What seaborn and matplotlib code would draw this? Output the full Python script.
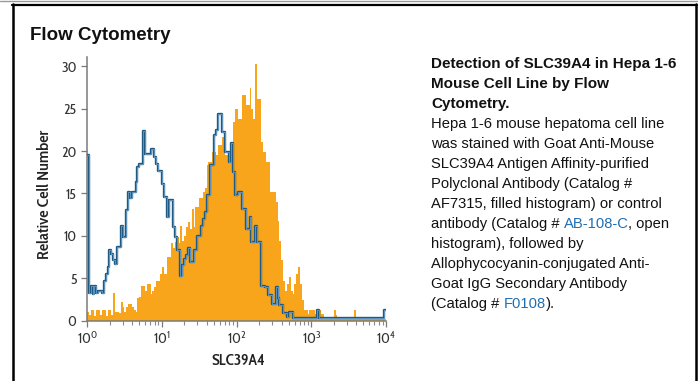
import numpy as np
import pandas as pd
import matplotlib
matplotlib.use('Agg')
import matplotlib.pyplot as plt
import seaborn as sns
from matplotlib.lines import Line2D

W, H = 698, 381

# 채널 경계 (log10 단위, 0.025 decade 간격 = 160 채널)
edges = np.linspace(0, 4, 161)
centers = (edges[:-1] + edges[1:]) / 2

# control antibody (open histogram)
control = [
    19.5, 3.3, 4.1, 3.1, 4.1, 3.3, 3.5, 3.5, 3.3, 4.7,
    5.5, 6.3, 8.3, 7.9, 7.1, 6.7, 8.7, 8.7, 11.2, 9.8,
    9.8, 13.0, 15.2, 14.4, 15.2, 15.2, 16.3, 18.1, 18.5, 18.5,
    22.4, 19.7, 19.7, 19.7, 20.3, 20.3, 19.3, 18.5, 17.7, 17.7,
    16.1, 14.6, 14.6, 12.2, 14.2, 14.2, 11.0, 9.8, 8.3, 8.3,
    5.3, 6.5, 7.3, 7.7, 8.5, 6.9, 6.9, 8.3, 8.3, 10.0,
    10.0, 11.2, 12.0, 12.8, 14.8, 14.8, 18.3, 18.3, 21.9, 22.5,
    24.4, 24.4, 22.2, 22.2, 19.9, 19.9, 18.7, 21.0, 17.5, 14.8,
    14.8, 15.2, 15.2, 13.2, 13.2, 10.8, 10.8, 12.2, 9.3, 9.3,
    11.2, 9.3, 9.3, 4.1, 4.1, 3.9, 3.9, 3.0, 3.0, 2.0,
    2.0, 4.0, 2.6, 1.8, 1.8, 0.9, 0.9, 0.4, 1.0, 1.0,
    0.3, 0.3, 0.3, 0.3, 0.3, 0.3, 0.3, 0.3, 0.3, 0.3,
    0.3, 0.3, 0.3, 1.2, 0.3, 0.3, 0.3, 0.3, 0.3, 0.3,
    0.3, 0.3, 0.3, 0.3, 0.3, 0.3, 0.3, 0.3, 0.3, 0.3,
    0.3, 0.3, 0.3, 0.3, 0.3, 0.3, 0.3, 0.3, 0.3, 0.3,
    0.3, 0.3, 0.3, 0.3, 0.3, 0.3, 0.3, 0.3, 0.3, 1.2,
]

# AF7315 (filled histogram)
stained = [
    1.0, 0.6, 1.2, 1.2, 0.5, 1.2, 1.2, 0.6, 1.2, 1.2,
    0.5, 1.2, 1.2, 0.6, 3.3, 1.0, 1.0, 0.9, 2.2, 1.6,
    1.0, 1.6, 2.0, 2.0, 1.6, 1.2, 1.0, 2.6, 2.8, 4.1,
    4.1, 3.5, 4.3, 4.3, 3.1, 3.5, 3.9, 4.7, 4.7, 5.5,
    6.3, 5.5, 5.5, 7.5, 7.5, 9.1, 8.5, 9.3, 9.8, 9.1,
    11.2, 9.4, 10.0, 11.0, 11.6, 10.8, 13.2, 11.0, 13.4, 13.4,
    14.4, 14.4, 15.2, 15.6, 18.3, 18.7, 18.7, 19.9, 19.9, 19.5,
    20.7, 20.7, 21.7, 21.7, 19.5, 19.5, 18.7, 18.9, 23.4, 25.0,
    25.0, 23.8, 23.8, 26.6, 26.6, 25.4, 25.4, 27.4, 25.0, 23.8,
    30.3, 26.2, 26.2, 21.1, 19.9, 19.9, 18.7, 18.7, 15.2, 15.2,
    15.2, 14.0, 11.8, 9.4, 7.1, 4.7, 3.5, 4.3, 5.1, 3.5,
    3.1, 4.3, 5.5, 6.3, 4.3, 2.4, 1.2, 1.2, 0.8, 1.2,
    1.2, 1.2, 0.8, 0.8, 1.2, 0.8, 0.8, 0.4, 0.2, 0.2,
    0.2, 0.2, 1.2, 0.6, 0.2, 0.2, 0.2, 0.2, 0.2, 0.2,
    0.2, 0.2, 0.2, 1.2, 0.2, 0.2, 0.2, 0.2, 0.2, 0.2,
    0.2, 0.2, 0.2, 0.2, 0.2, 0.2, 0.2, 0.2, 0.2, 0.2,
]

x_ticks = [0, 1, 2, 3, 4]
x_tick_labels = [r'$10^{0}$', r'$10^{1}$', r'$10^{2}$', r'$10^{3}$', r'$10^{4}$']
y_ticks = [0, 5, 10, 15, 20, 25, 30]

BLACK = '#111111'
LINK = '#1e6eb4'
caption = [
    [('Detection of SLC39A4 in Hepa 1-6', BLACK)],
    [('Mouse Cell Line by Flow', BLACK)],
    [('Cytometry.', BLACK)],
    [('Hepa 1-6 mouse hepatoma cell line', BLACK)],
    [('was stained with Goat Anti-Mouse', BLACK)],
    [('SLC39A4 Antigen Affinity-purified', BLACK)],
    [('Polyclonal Antibody (Catalog #', BLACK)],
    [('AF7315, filled histogram) or control', BLACK)],
    [('antibody (Catalog # ', BLACK), ('AB-108-C', LINK), (', open', BLACK)],
    [('histogram), followed by', BLACK)],
    [('Allophycocyanin-conjugated Anti-', BLACK)],
    [('Goat IgG Secondary Antibody', BLACK)],
    [('(Catalog # ', BLACK), ('F0108', LINK), (').', BLACK)],
]

ORANGE = '#f8a51c'
BLUE_DARK = '#1f5a84'
BLUE_LIGHT = '#6ea3cc'
NARROW = ['Cabin Condensed', 'DejaVu Sans']

sns.set_style('ticks')
plt.rcParams['font.family'] = ['Liberation Sans', 'DejaVu Sans']
plt.rcParams['mathtext.fontset'] = 'custom'
plt.rcParams['mathtext.rm'] = 'Cabin Condensed'
plt.rcParams['mathtext.it'] = 'Cabin Condensed'


def px(x, y):
    return x / W, 1 - y / H


fig = plt.figure(figsize=(W / 100, H / 100), dpi=100)
ax = fig.add_axes([87 / W, (H - 320.5) / H, 299 / W, 263.5 / H])

df = pd.DataFrame({'log_fl': centers, 'stained': stained, 'control': control})
bin_edges = edges.tolist()

sns.histplot(data=df, x='log_fl', weights='stained', bins=bin_edges, element='step',
             fill=True, color=ORANGE, alpha=1, linewidth=0, ax=ax, zorder=2)
sns.histplot(data=df, x='log_fl', weights='control', bins=bin_edges, element='step',
             fill=False, color=BLUE_DARK, linewidth=1.7, ax=ax, zorder=3)
sns.histplot(data=df, x='log_fl', weights='control', bins=bin_edges, element='step',
             fill=False, color=BLUE_LIGHT, linewidth=0.55, ax=ax, zorder=4)

ax.set_xlim(0, 4)
ax.set_ylim(0, 31.1)
sns.despine(ax=ax)
for s in ['left', 'bottom']:
    ax.spines[s].set_color('#7a7a7a')
    ax.spines[s].set_linewidth(1.1)

ax.set_xticks(x_ticks)
ax.set_xticklabels(x_tick_labels)
ax.set_xticks([n + np.log10(k) for n in range(4) for k in range(2, 10)], minor=True)
ax.set_yticks(y_ticks)
ax.tick_params(axis='both', which='major', length=4.5, width=0.9, color='#7a7a7a',
               labelsize=10.5, labelcolor='#333333', pad=3)
ax.tick_params(axis='x', which='minor', length=3, width=0.8, color='#8a8a8a')
for lab in ax.get_yticklabels():
    lab.set_family(NARROW)

ax.set_ylabel('Relative Cell Number', family=NARROW, fontsize=11.8,
              fontweight=600, color='#222222')
ax.yaxis.label.set_va('center')
ax.yaxis.set_label_coords(-0.14, 0.48)
ax.set_xlabel('SLC39A4', family=NARROW, fontsize=11.3, fontweight=600, color='#222222')
ax.xaxis.label.set_va('center')
ax.xaxis.set_label_coords(0.505, -0.154)

# 제목
fig.text(*px(30, 40.5), 'Flow Cytometry', fontsize=13.5, fontweight='bold',
         color=BLACK, va='baseline', ha='left')

# 설명문
renderer = fig.canvas.get_renderer()


def text_width(s, weight, size):
    t = fig.text(0, 0, s, fontsize=size, fontweight=weight)
    w = t.get_window_extent(renderer=renderer).width
    t.remove()
    return w


for i, segs in enumerate(caption):
    weight = 'bold' if i < 3 else 'normal'
    size = 11.0 if i < 3 else 10.6
    y = 68.3 + 20 * i
    prev = ''
    for txt, col in segs:
        off = 0 if not prev else text_width(prev + '|', weight, size) - text_width('|', weight, size)
        fig.text(*px(431 + off, y), txt, fontsize=size, fontweight=weight,
                 color=col, va='baseline', ha='left')
        prev += txt

# 테두리
fig.add_artist(Line2D([0, 1], [1 - 1 / H, 1 - 1 / H], transform=fig.transFigure,
                      color='#9a9a9a', linewidth=1.0))
fig.add_artist(Line2D([12 / W, 697 / W], [1 - 4.5 / H, 1 - 4.5 / H], transform=fig.transFigure,
                      color='black', linewidth=1.6))
fig.add_artist(Line2D([12.5 / W, 12.5 / W], [0, 1 - 3.7 / H], transform=fig.transFigure,
                      color='black', linewidth=1.8))
fig.add_artist(Line2D([695.7 / W, 695.7 / W], [0, 1 - 3.7 / H], transform=fig.transFigure,
                      color='black', linewidth=1.8))

fig.savefig('out.png', dpi=100)
